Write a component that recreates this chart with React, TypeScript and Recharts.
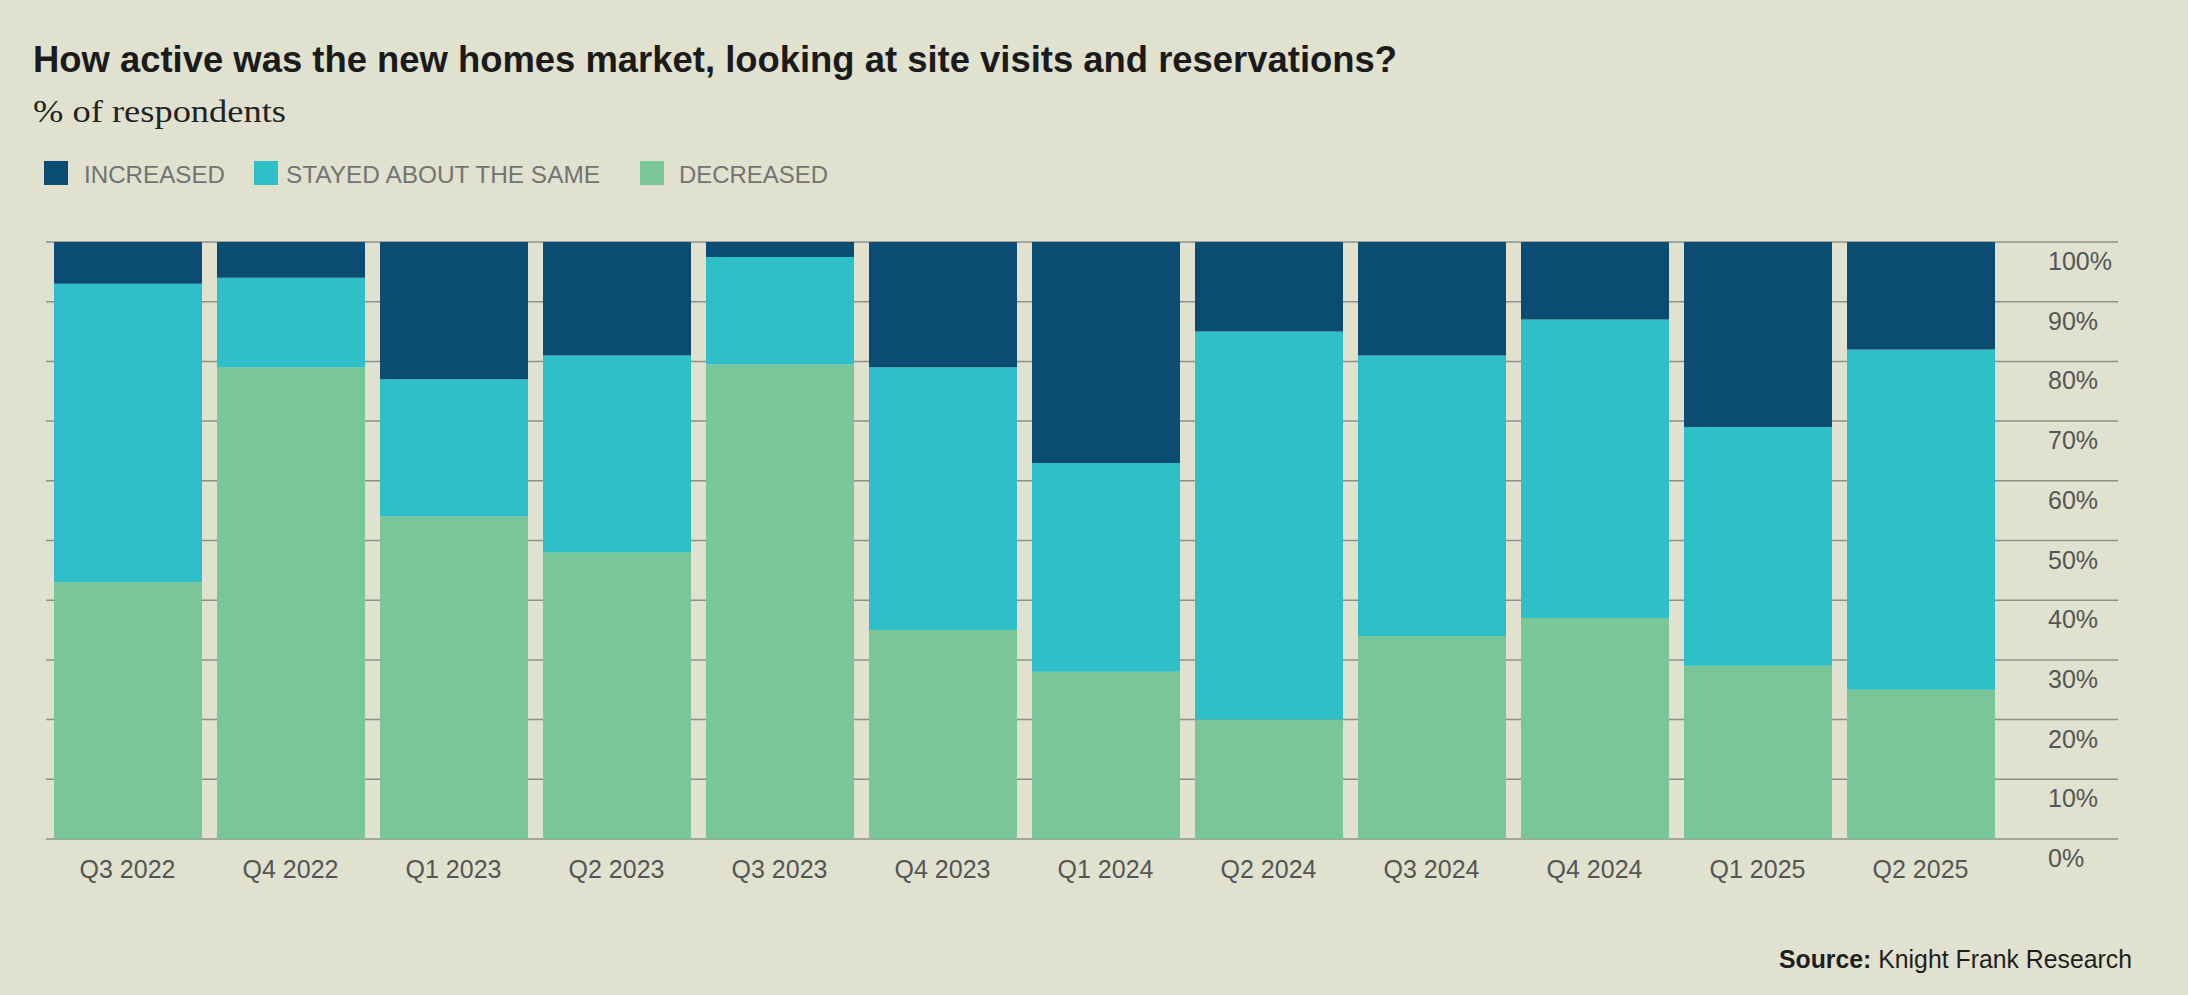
import { BarChart, Bar, XAxis, YAxis, CartesianGrid } from 'recharts'

// Survey results, % of respondents
const quarters = [
  'Q3 2022', 'Q4 2022', 'Q1 2023', 'Q2 2023', 'Q3 2023', 'Q4 2023',
  'Q1 2024', 'Q2 2024', 'Q3 2024', 'Q4 2024', 'Q1 2025', 'Q2 2025'
]
const increased = [7, 6, 23, 19, 2.5, 21, 37, 15, 19, 13, 31, 18]
const stayedSame = [50, 15, 23, 33, 18, 44, 35, 65, 47, 50, 40, 57]
const decreased = [43, 79, 54, 48, 79.5, 35, 28, 20, 34, 37, 29, 25]
const yTicks = [0, 10, 20, 30, 40, 50, 60, 70, 80, 90, 100]

const series = [
  { key: 'increased', label: 'INCREASED', color: '#0b4d72' },
  { key: 'same', label: 'STAYED ABOUT THE SAME', color: '#2fbfc9' },
  { key: 'decreased', label: 'DECREASED', color: '#79c799' }
]

const data = quarters.map((q, i) => ({
  quarter: q,
  increased: increased[i],
  same: stayedSame[i],
  decreased: decreased[i]
}))

const W = 2188
const H = 995
const BG = '#e0e2cf'
const FONT = '"Liberation Sans", Arial, sans-serif'

// legend layout: swatch x, text x, text width
const legendPos = [
  { sx: 44, tx: 84, tw: 141 },
  { sx: 254, tx: 286, tw: 314 },
  { sx: 640, tx: 679, tw: 149 }
]

const XTick = ({ x, y, payload }: any) => (
  <text x={x} y={y + 39} textAnchor="middle" fontFamily={FONT} fontSize={25} fill="#555555">
    {payload.value}
  </text>
)

const YTick = ({ x, y, payload }: any) => (
  <text x={x - 70} y={y + 28} textAnchor="start" fontFamily={FONT} fontSize={25} fill="#555555">
    {payload.value}%
  </text>
)

export default function App() {
  return (
    <div style={{ position: 'absolute', left: 0, top: 0, width: W, height: H, background: BG, overflow: 'hidden' }}>
      <svg width={W} height={H} style={{ position: 'absolute', left: 0, top: 0 }}>
        <text x={33} y={72} fontFamily={FONT} fontWeight={700} fontSize={36} fill="#1b1b1b"
          textLength={1364} lengthAdjust="spacingAndGlyphs">
          How active was the new homes market, looking at site visits and reservations?
        </text>
        <text x={33} y={122} fontFamily='"Liberation Serif", serif' fontSize={32} fill="#222222"
          textLength={253} lengthAdjust="spacingAndGlyphs">
          % of respondents
        </text>
        {series.map((s, i) => (
          <g key={s.key}>
            <rect x={legendPos[i].sx} y={161} width={24} height={24} fill={s.color} />
            <text x={legendPos[i].tx} y={183} fontFamily={FONT} fontSize={24} fill="#737373"
              textLength={legendPos[i].tw} lengthAdjust="spacingAndGlyphs">
              {s.label}
            </text>
          </g>
        ))}
        <text x={1779} y={968} fontFamily={FONT} fontSize={26} fill="#1e1e1e"
          textLength={353} lengthAdjust="spacingAndGlyphs">
          <tspan fontWeight={700}>Source:</tspan>
          <tspan> Knight Frank Research</tspan>
        </text>
      </svg>
      <div style={{ position: 'absolute', left: 0, top: 0 }}>
        <BarChart
          width={W}
          height={H}
          data={data}
          margin={{ top: 242, left: 46, right: 0, bottom: 96 }}
        >
          <CartesianGrid vertical={false} stroke="#8f8f88" strokeWidth={1.5} />
          <XAxis
            dataKey="quarter"
            height={60}
            axisLine={false}
            tickLine={false}
            tickSize={0}
            tickMargin={0}
            padding={{ left: 0, right: 116 }}
            tick={<XTick />}
            interval={0}
          />
          <YAxis
            orientation="right"
            domain={[0, 100]}
            ticks={yTicks}
            width={70}
            axisLine={false}
            tickLine={false}
            tickSize={0}
            tickMargin={0}
            tick={<YTick />}
            interval={0}
          />
          {[...series].reverse().map((s) => (
            <Bar key={s.key} dataKey={s.key} stackId="a" fill={s.color} barSize={148} isAnimationActive={false} />
          ))}
        </BarChart>
      </div>
    </div>
  )
}
